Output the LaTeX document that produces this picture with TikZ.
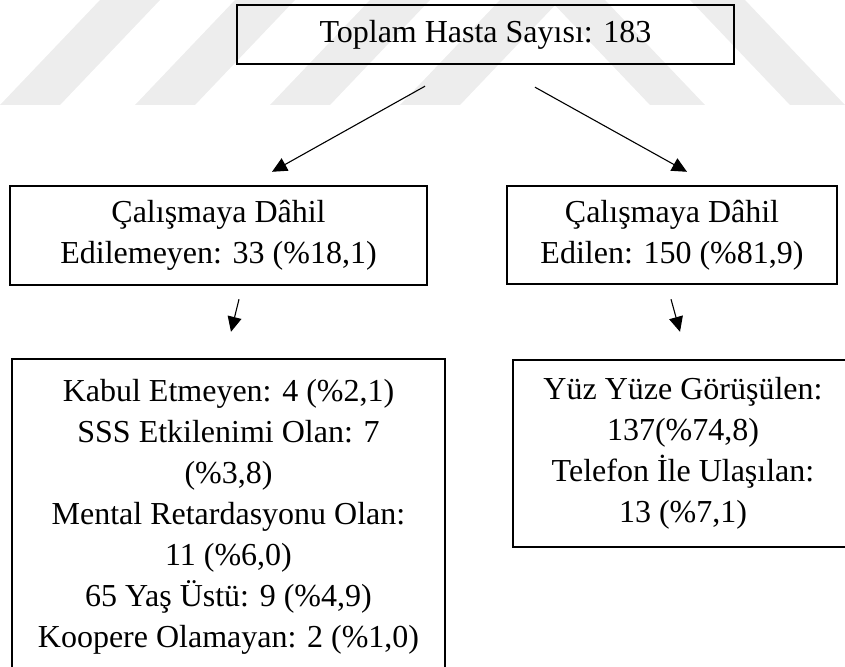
\documentclass[tikz,border=0pt]{standalone}
\usepackage{fontspec}
\setmainfont{Liberation Serif}
\usetikzlibrary{arrows.meta}
\tikzset{
  kutu/.style={draw, line width=2.4pt, align=center, inner sep=0pt,
    font=\fontsize{32pt}{41pt}\selectfont},
  ok/.style={-{Triangle[length=15pt,width=14pt]}, line width=1.1pt},
}
\begin{document}
\begin{tikzpicture}[x=1pt,y=-1pt]
        \useasboundingbox (0,0) rectangle (845,666);
        % silik filigran
        \foreach \b in {0,135,270,400}
            \fill[black!7] (\b,105) -- (\b+60,105) -- (\b+160,0) -- (\b+100,0) -- cycle;
        \foreach \b in {650,790}
            \fill[black!7] (\b,105) -- (\b+55,105) -- (\b-45,0) -- (\b-100,0) -- cycle;
        \node[kutu, minimum width=497pt, minimum height=59pt] (toplam) at (485.5,34.5) {Toplam Hasta Sayısı: 183};
        \node[kutu, minimum width=417pt, minimum height=99pt] (dahilolmayan) at (218.5,235.5) {Çalışmaya Dâhil\\Edilemeyen: 33 (\%18,1)};
        \node[kutu, minimum width=330pt, minimum height=98pt] (dahil) at (672,235) {Çalışmaya Dâhil\\Edilen: 150 (\%81,9)};
        \node[kutu, minimum width=433pt, minimum height=316pt] (nedenler) at (228.5,517) {Kabul Etmeyen: 4 (\%2,1)\\SSS Etkilenimi Olan: 7\\(\%3,8)\\Mental Retardasyonu Olan:\\11 (\%6,0)\\65 Yaş Üstü: 9 (\%4,9)\\Koopere Olamayan: 2 (\%1,0)};
        \node[kutu, minimum width=340pt, minimum height=187pt] (gorusme) at (683,453.5) {Yüz Yüze Görüşülen:\\137(\%74,8)\\Telefon İle Ulaşılan:\\13 (\%7,1)};
        \draw[ok] ([xshift=-60.5pt,yshift=-21pt]toplam.south) -- ([xshift=53.5pt,yshift=13pt]dahilolmayan.north);
        \draw[ok] ([xshift=49.5pt,yshift=-22pt]toplam.south) -- ([xshift=15pt,yshift=13pt]dahil.north);
        \draw[ok] ([xshift=20.5pt,yshift=-13pt]dahilolmayan.south) -- ([xshift=2.5pt,yshift=26pt]nedenler.north);
        \draw[ok] ([xshift=-1pt,yshift=-14pt]dahil.south) -- ([xshift=-3pt,yshift=27pt]gorusme.north);
    \end{tikzpicture}
\end{document}
